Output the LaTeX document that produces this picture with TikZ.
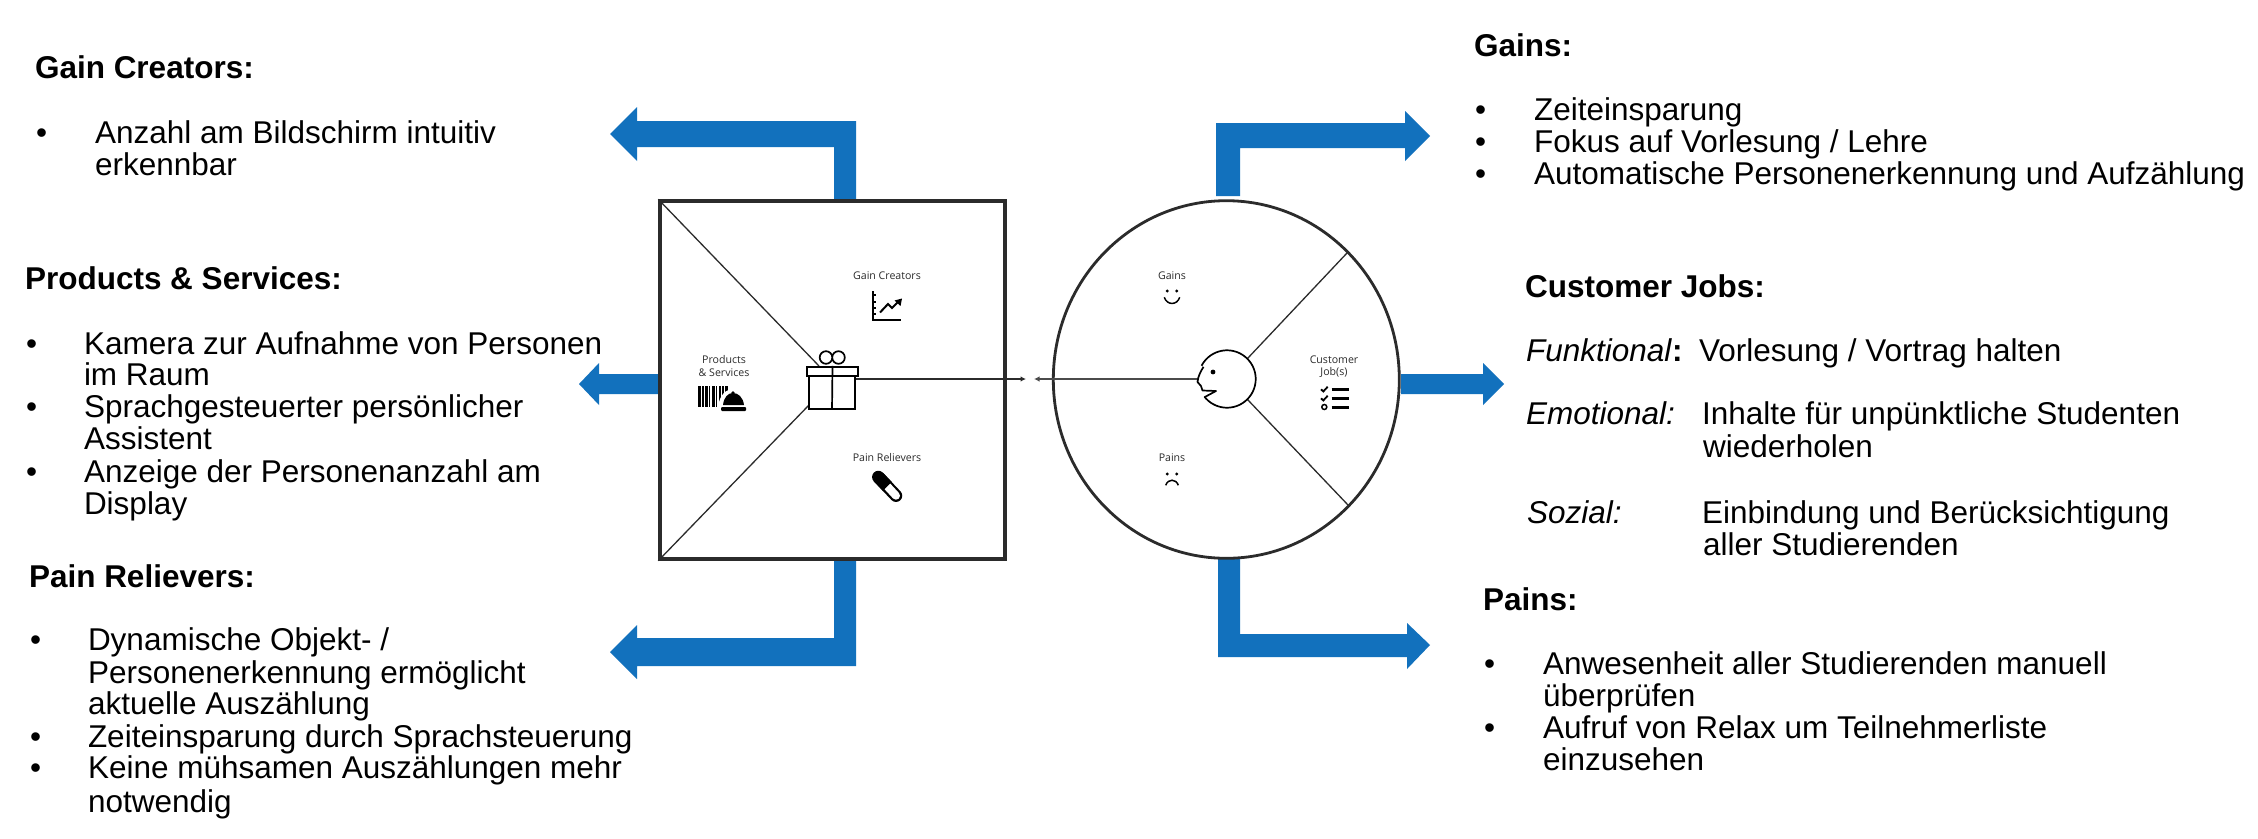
\documentclass[tikz,border=0pt]{standalone}
\usepackage{fontspec}
\setmainfont{Liberation Sans}
\newfontfamily\smallfont{Open Sans}
\usetikzlibrary{arrows.meta,shapes.geometric}
\definecolor{flow}{HTML}{1271BD}
\definecolor{inkdark}{HTML}{2B2B2B}
\tikzset{
  body/.style={anchor=base west,inner sep=0pt,outer sep=0pt,text=black,yshift=-1pt,font=\fontsize{31.5}{32}\selectfont},
  head/.style={body,xshift=-1pt,font=\fontsize{31.5}{32}\selectfont\bfseries},
  ital/.style={body,font=\fontsize{31.5}{32}\selectfont\itshape},
  tiny/.style={anchor=base,inner sep=0pt,outer sep=0pt,text=inkdark,font=\smallfont\fontsize{10.6}{13}\selectfont},
  bigarrow/.style={fill=flow,draw=none},
  thinline/.style={draw=inkdark,line width=1.3pt},
  icon/.style={draw=black,line width=1.7pt},
  tipline/.style={line width=1.5pt,-{Latex[length=5.5pt,width=5.5pt]}},
}
\begin{document}
\begin{tikzpicture}[x=1pt,y=-1pt]
\useasboundingbox (0,0) rectangle (2258,838);
\fill[white] (0,0) rectangle (2258,838);
% blue flow arrows
\fill[bigarrow] (856,201) -- (856,121) -- (637,121) -- (637,107) -- (610,134) -- (637,161) -- (637,147) -- (834,147) -- (834,201) -- cycle;
\fill[bigarrow] (660,374) -- (599,374) -- (599,363) -- (579,384) -- (599,405) -- (599,394) -- (660,394) -- cycle;
\fill[bigarrow] (856,559) -- (856,666) -- (637,666) -- (637,679) -- (610,652) -- (637,625) -- (637,638) -- (834,638) -- (834,559) -- cycle;
\fill[bigarrow] (1216,196) -- (1216,123) -- (1405,123) -- (1405,111) -- (1430,136) -- (1405,161) -- (1405,148) -- (1240,148) -- (1240,196) -- cycle;
\fill[bigarrow] (1401,374) -- (1483,374) -- (1483,363) -- (1504,384) -- (1483,405) -- (1483,394) -- (1401,394) -- cycle;
\fill[bigarrow] (1218,559) -- (1218,657) -- (1407,657) -- (1407,669) -- (1430,645) -- (1407,623) -- (1407,634) -- (1240,634) -- (1240,559) -- cycle;
% main shapes
\node[draw=inkdark,fill=white,line width=3.5pt,minimum width=345pt,minimum height=358pt,inner sep=0pt] (vp) at (832.5,380) {};
\node[ellipse,draw=inkdark,fill=white,line width=2.8pt,minimum width=346pt,minimum height=357.6pt,inner sep=0pt] (cp) at (1226.3,379.5) {};
% gift
\coordinate (diagA) at (819,366);
\coordinate (diagB) at (809,405);
\draw[thinline] (vp.north west) -- (diagA);
\draw[thinline] (vp.south west) -- (diagB);
\node[draw=black,line width=1.7pt,minimum width=46pt,minimum height=33pt,inner sep=0pt] (giftbox) at (832,392.5) {};
\node[draw=black,line width=1.7pt,minimum width=51pt,minimum height=9.5pt,inner sep=0pt] (giftlid) at (832.5,371.5) {};
\draw[icon] (giftlid.north) -- (giftbox.south);
\draw[icon] (826,357.5) circle (6.3pt) (838.5,357.5) circle (6.3pt);
% value connectors
\coordinate (vpTip) at (1026,379);
\coordinate (cpTip) at (1034,379);
\node[circle,minimum size=57.4pt,inner sep=0pt,outer sep=0pt] (face) at (1227,379) {};
\coordinate (faceNose) at (1197.5,379);
\draw[tipline,draw=inkdark,fill=inkdark] (giftbox.east |- vpTip) -- (vpTip);
\draw[tipline,draw=inkdark!85,fill=inkdark!85] (faceNose) -- (cpTip);
% face and spokes
\coordinate (spokeA) at (1347,253);
\coordinate (spokeB) at (1348,505);
\draw[thinline] (face.45) -- (spokeA);
\draw[thinline] (face.-45) -- (spokeB);
\draw[icon,line join=round,fill=white] plot[domain=207.5:501,samples=70] ({1227+28.7*cos(\x)},{379+28.7*sin(\x)}) -- (1216,391) -- (1202.5,390.5) -- (1201,386) -- (1197.5,382) .. controls (1198,376) and (1201,371) .. (1203.5,366.8);
\fill[black] (1213,372) circle (2.4pt);
% small labels
\node[tiny] (lblGC) at (887,279) {Gain Creators};
\node[tiny] (lblPR) at (887,461) {Pain Relievers};
\node[tiny] (lblPS1) at (724,363) {Products};
\node[tiny] (lblPS2) at (724,376) {\& Services};
\node[tiny] (lblG) at (1172,279) {Gains};
\node[tiny] (lblP) at (1172,461) {Pains};
\node[tiny] (lblCJ1) at (1334,363) {Customer};
\node[tiny] (lblCJ2) at (1334,375) {Job(s)};
% chart icon
\draw[black,line width=1.5pt] (873,291) -- (873,320) -- (901,320);
\foreach \ty in {295,302,308,314} \fill[black] (872.5,\ty-1) rectangle (875.5,\ty+1);
\draw[black,line width=2pt] (880,312.5) -- (888,304) -- (892,308) -- (898,302);
\fill[black] (902,298.5) -- (900.5,306) -- (894.5,300.5) -- cycle;
% barcode and bell
\foreach \bx/\bw in {698/3,702/1.5,705/2.5,709/1,712/3,716/1,718.5/2,722/1.5,725/3}
  \fill[black] (\bx,386) rectangle (\bx+\bw,407);
\fill[white] (718,409) -- (719,402) .. controls (722,392) and (728,389) .. (733,389) .. controls (740,389) and (746,394) .. (748,409) -- cycle;
\fill[black] (723,405) .. controls (724,397) and (728,393) .. (733,393) .. controls (738,393) and (743,397) .. (744,405) -- cycle;
\fill[black] (733,393) circle (1.8pt);
\fill[black,rounded corners=1pt] (721,407) rectangle (746,411);
% pill icon
\coordinate (pillA) at (878.3,477);
\coordinate (pillB) at (896,495.7);
\coordinate (pillM) at (887.3,486.3);
\draw[black,line width=12.5pt,line cap=round] (pillA) -- (pillB);
\draw[white,line width=8pt,line cap=round] (pillM) -- (pillB);
\draw[black,line width=12.5pt] (pillA) -- (pillM);
% checklist icon
\draw[black,line width=2.5pt] (1331.7,389.7) -- (1349,389.7) (1331.7,398.7) -- (1349,398.7) (1331.7,407.3) -- (1349,407.3);
\draw[black,line width=1.8pt] (1321,389.3) -- (1323.3,391.5) -- (1327.7,386.7) (1321,398.3) -- (1323.3,400.5) -- (1327.7,395.7);
\draw[black,line width=1.5pt] (1324.3,407) circle (2.5pt);
% smile and frown
\fill[black] (1167.3,291) circle (1.6pt) (1176.7,291) circle (1.6pt) (1167.3,474) circle (1.6pt) (1176.7,474) circle (1.6pt);
\draw[black,line width=1.5pt] (1164.3,297.3) .. controls (1167,305.5) and (1177,305.5) .. (1179.7,297.3);
\draw[black,line width=1.5pt] (1165.7,485.3) .. controls (1168,478.5) and (1176,478.5) .. (1178.3,485.3);
% Gain Creators text
\node[head] (gcH) at (36,77) {Gain Creators:};
\node[body] (gcB) at (36,142) {•};
\node[body] (gcL1) at (95,142) {Anzahl am Bildschirm intuitiv};
\node[body] (gcL2) at (95,174) {erkennbar};
% Products text
\node[head] (psH) at (26,288) {Products \& Services:};
\node[body] (psB1) at (26,353) {•};
\node[body] (psL1) at (84,353) {Kamera zur Aufnahme von Personen};
\node[body] (psL2) at (84,384) {im Raum};
\node[body] (psB2) at (26,416) {•};
\node[body] (psL3) at (84,416) {Sprachgesteuerter persönlicher};
\node[body] (psL4) at (84,448) {Assistent};
\node[body] (psB3) at (26,481) {•};
\node[body] (psL5) at (84,481) {Anzeige der Personenanzahl am};
\node[body] (psL6) at (84,513) {Display};
% Pain Relievers text
\node[head] (prH) at (30,586) {Pain Relievers:};
\node[body] (prB1) at (30,649) {•};
\node[body] (prL1) at (88,649) {Dynamische Objekt- /};
\node[body] (prL2) at (88,682) {Personenerkennung ermöglicht};
\node[body] (prL3) at (88,713) {aktuelle Auszählung};
\node[body] (prB2) at (30,746) {•};
\node[body] (prL4) at (88,746) {Zeiteinsparung durch Sprachsteuerung};
\node[body] (prB3) at (30,777) {•};
\node[body] (prL5) at (88,777) {Keine mühsamen Auszählungen mehr};
\node[body] (prL6) at (88,811) {notwendig};
% Gains text
\node[head] (gH) at (1475,55) {Gains:};
\node[body] (gB1) at (1475,119) {•};
\node[body] (gL1) at (1534,119) {Zeiteinsparung};
\node[body] (gB2) at (1475,151) {•};
\node[body] (gL2) at (1534,151) {Fokus auf Vorlesung / Lehre};
\node[body] (gB3) at (1475,183) {•};
\node[body] (gL3) at (1534,183) {Automatische Personenerkennung und Aufzählung};
% Customer Jobs text
\node[head] (cjH) at (1526,296) {Customer Jobs:};
\node[ital] (cjF) at (1526,360) {Funktional\textup{\bfseries :}};
\node[body] (cjF1) at (1699,360) {Vorlesung / Vortrag halten};
\node[ital] (cjE) at (1526,423) {Emotional:};
\node[body] (cjE1) at (1702,423) {Inhalte für unpünktliche Studenten};
\node[body] (cjE2) at (1703,456) {wiederholen};
\node[ital] (cjS) at (1527,522) {Sozial:};
\node[body] (cjS1) at (1702,522) {Einbindung und Berücksichtigung};
\node[body] (cjS2) at (1703,554) {aller Studierenden};
% Pains text
\node[head] (pH) at (1484,609) {Pains:};
\node[body] (pB1) at (1484,673) {•};
\node[body] (pL1) at (1543,673) {Anwesenheit aller Studierenden manuell};
\node[body] (pL2) at (1543,705) {überprüfen};
\node[body] (pB2) at (1484,737) {•};
\node[body] (pL3) at (1543,737) {Aufruf von Relax um Teilnehmerliste};
\node[body] (pL4) at (1543,769) {einzusehen};
\end{tikzpicture}
\end{document}
